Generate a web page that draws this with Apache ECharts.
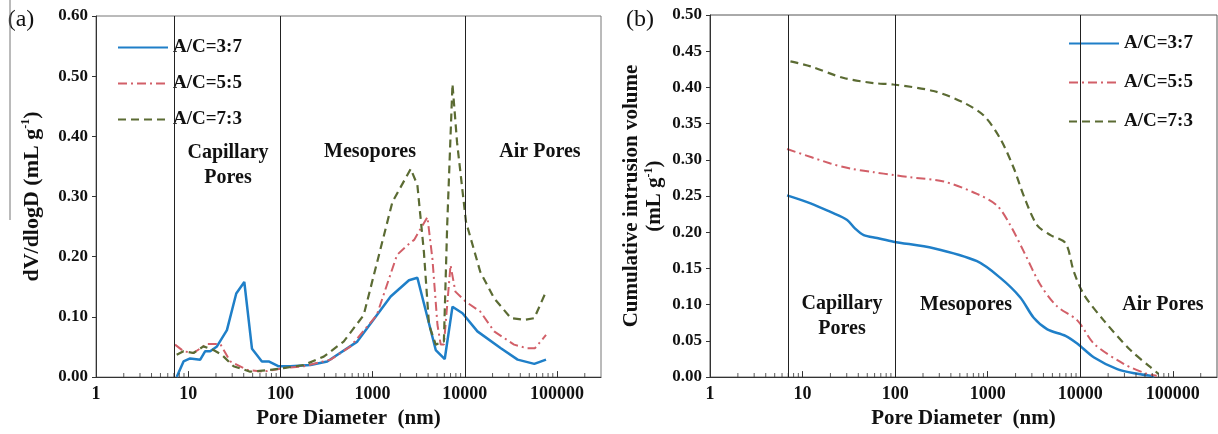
<!DOCTYPE html>
<html>
<head>
<meta charset="utf-8">
<script src="https://cdn.jsdelivr.net/npm/echarts@6/dist/echarts.min.js"></script>
<style>
  html, body { margin: 0; padding: 0; background: #fff; }
  #chart { width: 1218px; height: 434px; }
</style>
</head>
<body>
<div id="chart"></div>
<script>
// (a) pore size distribution, dV/dlogD vs pore diameter (nm)
const psd37 = [[7.5,0.0],[8.9,0.026],[10.5,0.031],[13.5,0.029],[15.3,0.043],[17.3,0.043],[20.5,0.051],
  [26.3,0.078],[33.2,0.139],[40.6,0.158],[49.2,0.047],[63,0.026],[74.6,0.026],[96,0.018],[128,0.018],
  [212,0.020],[322,0.026],[682,0.059],[1570,0.134],[2480,0.161],[3060,0.165],[4840,0.045],[6060,0.030],
  [7350,0.117],[9440,0.106],[13700,0.076],[24600,0.048],[37400,0.029],[56700,0.022],[76000,0.029]];
const psd55 = [[7.2,0.054],[8.9,0.043],[11.4,0.040],[15.9,0.055],[22.3,0.055],[28.6,0.026],[43.4,0.012],
  [65.7,0.009],[108,0.015],[179,0.018],[350,0.029],[577,0.051],[1110,0.103],[1840,0.203],[2380,0.219],
  [2820,0.228],[3930,0.266],[4450,0.197],[5050,0.087],[5480,0.054],[5930,0.054],[7000,0.186],[7900,0.142],
  [10300,0.125],[14700,0.109],[20800,0.076],[34200,0.054],[47000,0.048],[57700,0.048],[76000,0.070]];
const psd73 = [[7.5,0.037],[8.9,0.043],[11.4,0.040],[14.6,0.051],[18.8,0.045],[23.2,0.037],[31,0.018],
  [47,0.009],[78,0.012],[108,0.015],[179,0.020],[295,0.034],[485,0.059],[800,0.103],[1640,0.291],
  [2590,0.346],[3060,0.319],[3600,0.208],[4090,0.087],[4840,0.054],[5930,0.059],[6440,0.252],[7350,0.487],
  [8240,0.390],[10300,0.258],[14700,0.175],[20800,0.131],[31600,0.098],[44500,0.095],[56700,0.098],[76000,0.142]];

// (b) cumulative intrusion volume vs pore diameter (nm)
const cum37 = [[6.8,0.251],[12.2,0.240],[20,0.228],[30.3,0.217],[37,0.205],[45.8,0.196],[63.8,0.192],
  [96,0.187],[260,0.178],[766,0.160],[1370,0.137],[2250,0.110],[3140,0.082],[4410,0.066],[6930,0.057],
  [9340,0.046],[14100,0.027],[25100,0.011],[41500,0.0045],[63000,0.001]];
const cum55 = [[6.8,0.315],[20,0.295],[32.9,0.288],[58.5,0.283],[96,0.279],[146,0.276],[336,0.270],
  [766,0.253],[1260,0.237],[1750,0.210],[2440,0.174],[3690,0.128],[5580,0.098],[9340,0.078],[14100,0.046],
  [29700,0.018],[52600,0.0045],[67000,0.002]];
const cum73 = [[7.4,0.436],[12.2,0.429],[27.9,0.413],[58.5,0.406],[96,0.404],[260,0.395],[549,0.379],
  [910,0.361],[1370,0.329],[1920,0.288],[2440,0.251],[3410,0.210],[4770,0.196],[6930,0.185],[8500,0.146],
  [10950,0.114],[18000,0.078],[35000,0.037],[57000,0.014],[70000,0.0045]];

const seriesNames = ['A/C=3:7', 'A/C=5:5', 'A/C=7:3'];
const dividers = [7, 100, 10000];
const minorTickValues = [];
[1, 10, 100, 1000, 10000, 100000].forEach(d => {
  for (let k = 2; k <= 9; k++) {
    if (d * k < 300000) minorTickValues.push(d * k);
  }
});

const FONT = '"Liberation Serif", "Times New Roman", serif';
const colors = ['#1f7fc8', '#d25f68', '#5b6b33'];
const lineStyles = [
  { width: 2.5, type: 'solid' },
  { width: 2, type: [9, 4, 2, 4] },
  { width: 2.2, type: [8, 5] }
];

function xAxisFor(grid) {
  return {
    type: 'log', logBase: 10, gridIndex: grid, min: 1, max: 300000,
    name: 'Pore Diameter  (nm)', nameLocation: 'middle', nameGap: 27,
    nameTextStyle: { fontFamily: FONT, fontWeight: 'bold', fontSize: 21, color: '#111' },
    axisLine: { lineStyle: { color: '#333', width: 1 } },
    axisTick: { inside: true, length: 6, lineStyle: { color: '#333' } },
    axisLabel: { fontFamily: FONT, fontWeight: 'bold', fontSize: 18, color: '#111', margin: 8,
      formatter: v => String(Math.round(v)) },
    splitLine: { show: false }
  };
}

function yAxisFor(grid, max, interval, name, gap, size) {
  return {
    type: 'value', gridIndex: grid, min: 0, max: max, interval: interval,
    name: name, nameLocation: 'middle', nameGap: gap, nameRotate: 90,
    nameTextStyle: {
      fontFamily: FONT, fontWeight: 'bold', fontSize: size, color: '#111', lineHeight: size + 2,
      rich: { sup: { fontFamily: FONT, fontWeight: 'bold', fontSize: 12, verticalAlign: 'top', color: '#111' } }
    },
    axisLine: { show: true, lineStyle: { color: '#333', width: 1 } },
    axisTick: { show: true, inside: false, length: 4, lineStyle: { color: '#333' } },
    axisLabel: { fontFamily: FONT, fontWeight: 'bold', fontSize: 17, color: '#111', margin: 8,
      formatter: v => v.toFixed(2) },
    splitLine: { show: false }
  };
}

function lineSeries(i, grid, data, withDividers) {
  const s = {
    name: seriesNames[i], type: 'line', xAxisIndex: grid, yAxisIndex: grid,
    data: data, showSymbol: false, symbol: 'none', smooth: grid === 1 ? 0.3 : false,
    lineStyle: Object.assign({ color: colors[i] }, lineStyles[i]),
    itemStyle: { color: colors[i] }, z: 3
  };
  if (withDividers) {
    s.markLine = {
      silent: true, symbol: ['none', 'none'], label: { show: false },
      lineStyle: { color: '#222', width: 1, type: 'solid' },
      data: dividers.map(v => ({ xAxis: v }))
    };
  }
  return s;
}

function minorTicks(grid) {
  return {
    type: 'scatter', xAxisIndex: grid, yAxisIndex: grid, silent: true,
    symbol: 'rect', symbolSize: [1, 4], symbolOffset: [0, -2],
    itemStyle: { color: '#333' }, z: 4,
    data: minorTickValues.map(v => [v, 0])
  };
}

function legendFor(left, top, gap) {
  return {
    data: seriesNames, orient: 'vertical', left: left, top: top,
    itemWidth: 50, itemHeight: 14, itemGap: gap,
    itemStyle: { opacity: 0 },
    textStyle: { fontFamily: FONT, fontWeight: 'bold', fontSize: 19, color: '#111' },
    selectedMode: false
  };
}

function label(x, y, text, size, bold) {
  return {
    type: 'text', x: x, y: y,
    style: { text: text, fontFamily: FONT, fontWeight: bold ? 'bold' : 'normal', fontSize: size,
      fill: '#111', align: 'center', verticalAlign: 'middle', lineHeight: 25 }
  };
}

const chart = echarts.init(document.getElementById('chart'));
chart.setOption({
  animation: false,
  backgroundColor: '#fff',
  grid: [
    { left: 96, top: 16, width: 505, height: 363, show: true, borderColor: '#777', borderWidth: 1, backgroundColor: 'transparent' },
    { left: 710, top: 15, width: 507, height: 365, show: true, borderColor: '#555', borderWidth: 1, backgroundColor: 'transparent' }
  ],
  xAxis: [xAxisFor(0), xAxisFor(1)],
  yAxis: [
    yAxisFor(0, 0.6, 0.1, 'dV/dlogD (mL g{sup|-1})', 52, 22),
    yAxisFor(1, 0.5, 0.05, 'Cumulative intrusion volume\n(mL g{sup|-1})', 44, 21)
  ],
  legend: [
    legendFor(112, 33, 17),
    legendFor(1063, 29, 20)
  ],
  series: [
    lineSeries(0, 0, psd37, true),
    lineSeries(1, 0, psd55, false),
    lineSeries(2, 0, psd73, false),
    minorTicks(0),
    lineSeries(0, 1, cum37, true),
    lineSeries(1, 1, cum55, false),
    lineSeries(2, 1, cum73, false),
    minorTicks(1)
  ],
  graphic: [
    label(21, 20, '(a)', 24, false),
    label(640, 20, '(b)', 24, false),
    { type: 'line', shape: { x1: 10, y1: 0, x2: 10, y2: 220 }, style: { stroke: '#777', lineWidth: 1 } },
    label(228, 165, 'Capillary\nPores', 20, true),
    label(370, 152, 'Mesopores', 20, true),
    label(540, 152, 'Air Pores', 20, true),
    label(842, 316, 'Capillary\nPores', 20, true),
    label(966, 305, 'Mesopores', 20, true),
    label(1163, 305, 'Air Pores', 20, true)
  ]
});
</script>
</body>
</html>
